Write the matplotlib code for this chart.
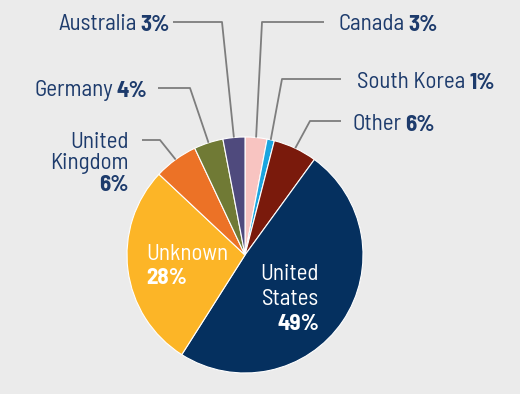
import matplotlib.pyplot as plt
import numpy as np

# slice data, clockwise from 12 o'clock
countries = ["Canada", "South Korea", "Other", "United States",
             "Unknown", "United Kingdom", "Germany", "Australia"]
shares = [3, 1, 6, 49, 28, 6, 4, 3]
colours = ["#f8c4c1", "#1ba5e0", "#7a1a0c", "#05305f",
           "#fcb527", "#ec7226", "#707a35", "#4f4a7d"]

W, H = 520, 394
BG = "#ebebeb"
NAVY = "#1d3b6c"
LINE = "#7d7d7d"
FONT = ["Barlow Semi Condensed", "DejaVu Sans"]
FS = 16.5
DY = 2.5  # text sits a bit low in its box

fig = plt.figure(figsize=(W / 100, H / 100), dpi=100, facecolor=BG)
ax = fig.add_axes([0, 0, 1, 1])

cx, cy, r = 245, H - 255, 118
wedges, _ = ax.pie(shares, colors=colours, startangle=90, counterclock=False,
                   center=(cx, cy), radius=r, frame=True,
                   wedgeprops=dict(edgecolor="white", linewidth=0.8))
ax.set_xlim(0, W)
ax.set_ylim(0, H)
ax.set_aspect("equal")
ax.axis("off")

renderer = fig.canvas.get_renderer()


def txt(px, py, s, ha="left", color=NAVY, bold=False):
    return ax.text(px, H - py - DY, s, ha=ha, va="center", color=color,
                   fontsize=FS, family=FONT,
                   fontweight="bold" if bold else "normal")


def edge_point(i):
    w = wedges[i]
    a = np.deg2rad((w.theta1 + w.theta2) / 2)
    return cx + r * np.cos(a), cy + r * np.sin(a)


def label(px, py, name, pct):
    t = txt(px, py, name)
    bb = t.get_window_extent(renderer).transformed(ax.transData.inverted())
    txt(bb.x1 + 4, py, pct, bold=True)


def leader(i, pts):
    ex, ey = edge_point(i)
    xs = [p[0] for p in pts] + [ex]
    ys = [H - p[1] for p in pts] + [ey]
    ax.plot(xs, ys, color=LINE, lw=1.3, solid_capstyle="butt")


pcts = {c: "%d%%" % s for c, s in zip(countries, shares)}

label(58, 22, "Australia", pcts["Australia"])
leader(7, [(173, 22), (222, 22)])
label(34, 88, "Germany", pcts["Germany"])
leader(6, [(158, 88), (190, 88)])
label(338, 22, "Canada", pcts["Canada"])
leader(0, [(324, 22), (262, 22)])
label(357, 80, "South Korea", pcts["South Korea"])
leader(1, [(341, 79), (282, 79)])
label(352, 122, "Other", pcts["Other"])
leader(2, [(341, 121), (310, 121)])

# United Kingdom, stacked and right aligned
txt(129, 140, "United", ha="right")
txt(129, 161, "Kingdom", ha="right")
txt(129, 182, pcts["United Kingdom"], ha="right", bold=True)
leader(5, [(142, 140), (160, 140)])

# labels inside the big slices
txt(146, 252, "Unknown", color="white")
txt(146, 276, pcts["Unknown"], color="white", bold=True)
txt(319, 272, "United", ha="right", color="white")
txt(319, 297, "States", ha="right", color="white")
txt(319, 321, pcts["United States"], ha="right", color="white", bold=True)

fig.savefig("out.png", dpi=100, facecolor=BG)
